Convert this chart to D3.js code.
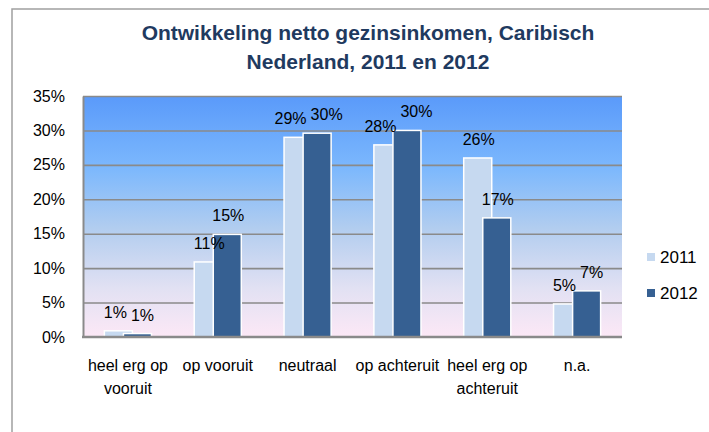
<!DOCTYPE html>
<html>
<head>
<meta charset="utf-8">
<script src="https://cdn.jsdelivr.net/npm/d3@7"></script>
<style>
    body { margin: 0; background: #fff; }
    svg { display: block; }
    text { font-family: "Liberation Sans Narrow", "Arial Narrow", "Liberation Sans", sans-serif; fill: #000; }
</style>
</head>
<body>
<svg id="chart" width="709" height="432"></svg>
<script>
const categories = [['heel erg op', 'vooruit'], ['op vooruit'], ['neutraal'], ['op achteruit'], ['heel erg op', 'achteruit'], ['n.a.']];
const seriesNames = ['2011', '2012'];
const values2011 = [0.9, 10.9, 29.0, 27.9, 26.0, 4.8];
const values2012 = [0.5, 14.9, 29.6, 30.0, 17.3, 6.7];
const yTicks = [0, 5, 10, 15, 20, 25, 30, 35];
const titleLines = ['Ontwikkeling netto gezinsinkomen, Caribisch', 'Nederland, 2011 en 2012'];

initChart();

function initChart() {
    const svg = d3.select('#chart');
    const plot = { left: 83, right: 622, top: 96, bottom: 337 };
    const colors = ['#c6d9f0', '#366092'];
    const series = [values2011, values2012];

    // Outer frame (only top and left edges visible in the crop)
    svg.append('path')
        .attr('d', 'M12,432 V9 H709')
        .attr('fill', 'none')
        .attr('stroke', '#a0a0a0')
        .attr('stroke-width', 1.5);

    // Title
    svg.append('g')
        .selectAll('text')
        .data(titleLines)
        .enter()
        .append('text')
        .attr('x', 368)
        .attr('y', (d, i) => 40 + i * 29)
        .attr('text-anchor', 'middle')
        .attr('font-size', 21)
        .attr('font-weight', 'bold')
        .style('fill', '#1f3a5f')
        .text((d) => d);

    const x = d3.scaleBand()
        .domain(d3.range(categories.length))
        .range([plot.left, plot.right]);
    const y = d3.scaleLinear()
        .domain([0, 35])
        .range([plot.bottom, plot.top]);

    // Background gradient
    const grad = svg.append('defs')
        .append('linearGradient')
        .attr('id', 'bg')
        .attr('x1', 0).attr('y1', 0)
        .attr('x2', 0).attr('y2', 1);
    [['0', '#5a9afa'], ['0.3', '#7cb8fd'], ['0.55', '#b2cdef'], ['0.8', '#e2e1f3'], ['1', '#fce8f6']]
        .forEach((s) => grad.append('stop').attr('offset', s[0]).attr('stop-color', s[1]));

    svg.append('rect')
        .attr('x', plot.left)
        .attr('y', plot.top)
        .attr('width', plot.right - plot.left)
        .attr('height', plot.bottom - plot.top)
        .attr('fill', 'url(#bg)');

    // Grid
    svg.append('g')
        .attr('class', 'grid')
        .attr('transform', 'translate(' + plot.left + ',0)')
        .call(d3.axisLeft(y)
            .tickValues(yTicks.slice(1))
            .tickSize(-(plot.right - plot.left))
            .tickFormat(''))
        .call((g) => g.select('.domain').remove())
        .call((g) => g.selectAll('line').attr('stroke', '#8a8a8a').attr('stroke-width', 1.6));

    // Y axis labels
    svg.append('g')
        .attr('transform', 'translate(' + plot.left + ',0)')
        .call(d3.axisLeft(y)
            .tickValues(yTicks)
            .tickSize(0)
            .tickPadding(18)
            .tickFormat((d) => d + '%'))
        .call((g) => g.select('.domain').attr('stroke', '#8a8a8a').attr('stroke-width', 2))
        .call((g) => g.selectAll('text').attr('font-size', 16).attr('font-family', '"Liberation Sans", sans-serif'));

    // Bars
    const bw = x.bandwidth() * 0.312;
    const offset = bw * 0.68;
    const barX = (i, s) => x(i) + x.bandwidth() / 2 - (bw + offset) / 2 + s * offset;

    series.forEach((vals, s) => {
        svg.append('g')
            .selectAll('rect')
            .data(vals)
            .enter()
            .append('rect')
            .attr('x', (d, i) => barX(i, s))
            .attr('y', (d) => y(d))
            .attr('width', bw)
            .attr('height', (d) => y(0) - y(d))
            .attr('fill', colors[s])
            .attr('stroke', '#fff')
            .attr('stroke-width', 1.5);
    });

    // Bottom axis line
    svg.append('line')
        .attr('x1', plot.left - 1)
        .attr('x2', plot.right)
        .attr('y1', y(0))
        .attr('y2', y(0))
        .attr('stroke', '#8a8a8a')
        .attr('stroke-width', 2.5);

    // Data labels
    const labels = series.map((vals, s) => svg.append('g')
        .selectAll('text')
        .data(vals)
        .enter()
        .append('text')
        .attr('x', (d, i) => barX(i, s) + bw / 2 + 1)
        .attr('y', (d) => y(d) - 13)
        .attr('text-anchor', 'middle')
        .attr('font-size', 16)
        .attr('font-family', '"Liberation Sans", sans-serif')
        .text((d) => Math.round(d) + '%')
        .nodes());

    // Push apart labels of the same group that collide
    categories.forEach((c, i) => {
        const a = labels[0][i], b = labels[1][i];
        const ba = a.getBBox(), bb = b.getBBox();
        const vOverlap = Math.abs(ba.y - bb.y) < ba.height;
        const hOverlap = ba.x + ba.width + 4 - bb.x;
        if (vOverlap && hOverlap > 0) {
            a.setAttribute('x', +a.getAttribute('x') - hOverlap / 2);
            b.setAttribute('x', +b.getAttribute('x') + hOverlap / 2);
        }
    });

    // Category labels
    const cat = svg.append('g')
        .selectAll('text')
        .data(categories)
        .enter()
        .append('text')
        .attr('x', (d, i) => x(i) + x.bandwidth() / 2)
        .attr('y', 371)
        .attr('text-anchor', 'middle')
        .attr('font-size', 16);
    cat.selectAll('tspan')
        .data((d) => d)
        .enter()
        .append('tspan')
        .attr('x', function () { return d3.select(this.parentNode).attr('x'); })
        .attr('dy', (d, i) => i ? 23 : 0)
        .text((d) => d);

    // Legend
    const legend = svg.append('g')
        .selectAll('g')
        .data(seriesNames)
        .enter()
        .append('g')
        .attr('transform', (d, i) => 'translate(647,' + (253 + i * 36) + ')');
    legend.append('rect')
        .attr('width', 8)
        .attr('height', 8)
        .attr('fill', (d, i) => colors[i]);
    legend.append('text')
        .attr('x', 13)
        .attr('y', 10)
        .attr('font-size', 17)
        .attr('font-family', '"Liberation Sans", sans-serif')
        .text((d) => d);
}
</script>
</body>
</html>
